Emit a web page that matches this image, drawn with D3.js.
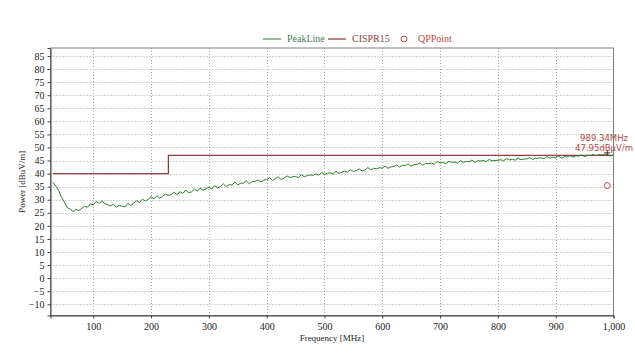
<!DOCTYPE html>
<html>
<head>
<meta charset="utf-8">
<script src="https://cdn.jsdelivr.net/npm/d3@7"></script>
<style>
  body { margin: 0; background: #fff; }
  .tick text { font-family: "Liberation Serif", serif; font-size: 10px; fill: #222; }
</style>
</head>
<body>
<div id="chart"></div>
<script>
// sweep: 30 MHz to 1000 MHz, 5 MHz per point
const peakStart = 30, peakStep = 5;
const peakValues = [
  36.8, 35.2, 33.6, 31.0, 29.1, 27.0, 26.4, 25.5, 26.3, 25.8,
  26.7, 27.5, 27.1, 28.4, 28.0, 29.3, 28.6, 29.6, 28.5, 28.1,
  27.6, 28.3, 27.1, 27.9, 27.5, 27.3, 28.6, 27.8, 28.7, 29.6,
  28.9, 30.2, 29.5, 30.1, 31.1, 30.3, 31.5, 30.6, 31.3, 32.2,
  31.6, 32.0, 32.9, 31.9, 33.1, 32.4, 33.7, 32.7, 33.0, 34.1,
  33.3, 34.5, 33.6, 34.2, 34.8, 34.1, 35.4, 34.5, 35.0, 36.1,
  35.0, 35.8, 35.6, 36.7, 35.7, 36.3, 36.4, 37.2, 36.1, 36.9,
  37.0, 37.6, 36.8, 37.5, 37.7, 38.4, 37.4, 38.0, 38.8, 37.7,
  38.2, 39.1, 38.5, 38.8, 38.9, 38.4, 39.6, 38.8, 39.2, 39.5,
  39.3, 39.9, 39.4, 40.5, 39.6, 40.1, 40.3, 39.8, 40.9, 40.1,
  40.5, 41.0, 40.6, 41.5, 40.8, 41.1, 41.8, 41.0, 41.4, 42.3,
  41.4, 42.0, 41.9, 42.2, 42.1, 42.9, 42.0, 42.6, 42.7, 43.3,
  42.5, 43.2, 43.1, 43.6, 42.8, 43.4, 43.5, 44.1, 43.2, 43.9,
  43.8, 44.0, 43.6, 44.6, 44.1, 44.2, 43.8, 44.7, 44.3, 44.4,
  44.0, 44.9, 44.4, 44.6, 44.5, 45.2, 44.3, 44.9, 44.8, 45.0,
  44.6, 45.4, 44.9, 45.0, 45.1, 45.3, 44.9, 45.7, 45.2, 45.5,
  45.1, 45.9, 45.3, 45.6, 45.6, 46.1, 45.4, 45.8, 45.9, 46.0,
  45.7, 46.5, 45.9, 46.2, 46.1, 46.7, 45.9, 46.5, 46.4, 46.9,
  46.3, 46.8, 46.7, 47.1, 46.5, 47.0, 46.9, 47.4, 46.8, 47.3,
  47.1, 47.5, 47.3, 46.8, 47.0
];

// CISPR15 limit line (MHz, dBuV/m)
const limitFreq = [30, 230, 230, 1000];
const limitValues = [40, 40, 47, 47];

const qpFreq = [989.34];
const qpValues = [35.4];

const markerFreq = 989.34, markerValue = 47.95;

const xTicks = [100, 200, 300, 400, 500, 600, 700, 800, 900, 1000];
const yTicks = [-10, -5, 0, 5, 10, 15, 20, 25, 30, 35, 40, 45, 50, 55, 60, 65, 70, 75, 80, 85];

const W = 635, H = 353;
const plot = { left: 50.5, right: 613.5, top: 48, bottom: 315.5 };

const svg = d3.select("#chart")
    .append("svg")
    .attr("width", W)
    .attr("height", H);

const x = d3.scaleLinear().domain([26, 1000]).range([plot.left, plot.right]);
const y = d3.scaleLinear().domain([-14.3, 88.05]).range([plot.bottom, plot.top]);

// grid
svg.append("g")
    .selectAll("line")
    .data(yTicks)
    .join("line")
    .attr("x1", plot.left).attr("x2", plot.right)
    .attr("y1", d => Math.round(y(d)) + 0.5).attr("y2", d => Math.round(y(d)) + 0.5)
    .style("stroke", "#a8a8a8")
    .style("stroke-dasharray", "1,2");

svg.append("g")
    .selectAll("line")
    .data(xTicks.slice(0, -1))
    .join("line")
    .attr("x1", d => Math.round(x(d)) + 0.5).attr("x2", d => Math.round(x(d)) + 0.5)
    .attr("y1", plot.top).attr("y2", plot.bottom)
    .style("stroke", "#a8a8a8")
    .style("stroke-dasharray", "1,2");

// frame
svg.append("rect")
    .attr("x", plot.left).attr("y", plot.top)
    .attr("width", plot.right - plot.left).attr("height", plot.bottom - plot.top)
    .attr("fill", "none")
    .style("stroke", "#808080");

// axes
const xAxis = svg.append("g")
    .attr("transform", `translate(0,${plot.bottom})`)
    .call(d3.axisBottom(x).tickValues(xTicks).tickSize(3).tickPadding(4).tickFormat(d3.format(",")));
xAxis.select(".domain").style("stroke", "#404040");
xAxis.selectAll(".tick line").style("stroke", "#404040");

const yAxis = svg.append("g")
    .attr("transform", `translate(${plot.left},0)`)
    .call(d3.axisLeft(y).tickValues(yTicks).tickSize(3).tickPadding(3));
yAxis.select(".domain").style("stroke", "#404040");
yAxis.selectAll(".tick line").style("stroke", "#404040");

svg.append("text")
    .attr("x", (plot.left + plot.right) / 2)
    .attr("y", 341)
    .attr("text-anchor", "middle")
    .style("font-family", "Liberation Serif, serif")
    .style("font-size", "9px")
    .style("fill", "#222")
    .text("Frequency [MHz]");

svg.append("text")
    .attr("transform", "rotate(-90)")
    .attr("x", -(plot.top + plot.bottom) / 2)
    .attr("y", 25)
    .attr("text-anchor", "middle")
    .style("font-family", "Liberation Serif, serif")
    .style("font-size", "9px")
    .style("fill", "#222")
    .text("Power [dBuV/m]");

// limit line
const limitData = limitFreq.map((f, i) => ({ f: f, v: limitValues[i] }));
svg.append("path")
    .datum(limitData)
    .attr("fill", "none")
    .style("stroke", "#8e3f3f")
    .style("stroke-width", 1.3)
    .attr("d", d3.line().x(d => x(d.f)).y(d => y(d.v)));

// peak line
const peakData = peakValues.map((v, i) => ({ f: peakStart + i * peakStep, v: v }));
svg.append("path")
    .datum(peakData)
    .attr("fill", "none")
    .style("stroke", "#2b7d2b")
    .style("stroke-width", 1)
    .attr("d", d3.line().x(d => x(d.f)).y(d => y(d.v)));

// QP points
svg.append("g")
    .selectAll("circle")
    .data(qpFreq.map((f, i) => ({ f: f, v: qpValues[i] })))
    .join("circle")
    .attr("cx", d => x(d.f))
    .attr("cy", d => y(d.v))
    .attr("r", 3)
    .attr("fill", "none")
    .style("stroke", "#c04848")
    .style("stroke-width", 1);

// peak marker
const mx = x(markerFreq), my = y(markerValue);
svg.append("path")
    .attr("d", `M${mx - 3},${my}H${mx + 3}M${mx},${my - 3}V${my + 3}`)
    .style("stroke", "#5a3030")
    .style("stroke-width", 1);

svg.append("text")
    .attr("x", 628).attr("y", 141)
    .attr("text-anchor", "end")
    .style("font-family", "DejaVu Sans, sans-serif")
    .style("font-size", "8.5px")
    .style("fill", "#b04848")
    .text(`${markerFreq}MHz`);
svg.append("text")
    .attr("x", 633).attr("y", 151)
    .attr("text-anchor", "end")
    .style("font-family", "DejaVu Sans, sans-serif")
    .style("font-size", "8.5px")
    .style("fill", "#b04848")
    .text(`${markerValue}dBμV/m`);

// legend
const legend = svg.append("g").attr("transform", "translate(0,39)");
legend.append("line").attr("x1", 263).attr("x2", 281).attr("y1", 0).attr("y2", 0)
    .style("stroke", "#2b7d2b");
legend.append("text").attr("x", 287).attr("y", 3)
    .style("font-family", "Liberation Serif, serif").style("font-size", "10px")
    .style("fill", "#4a7a5a").text("PeakLine");
legend.append("line").attr("x1", 328).attr("x2", 346).attr("y1", 0).attr("y2", 0)
    .style("stroke", "#8e3f3f").style("stroke-width", 1.3);
legend.append("text").attr("x", 352).attr("y", 3)
    .style("font-family", "Liberation Serif, serif").style("font-size", "10px")
    .style("fill", "#8e3f3f").text("CISPR15");
legend.append("circle").attr("cx", 404).attr("cy", 0).attr("r", 3)
    .attr("fill", "none").style("stroke", "#c04848");
legend.append("text").attr("x", 418).attr("y", 3)
    .style("font-family", "Liberation Serif, serif").style("font-size", "10px")
    .style("fill", "#c04848").text("QPPoint");
</script>
</body>
</html>
